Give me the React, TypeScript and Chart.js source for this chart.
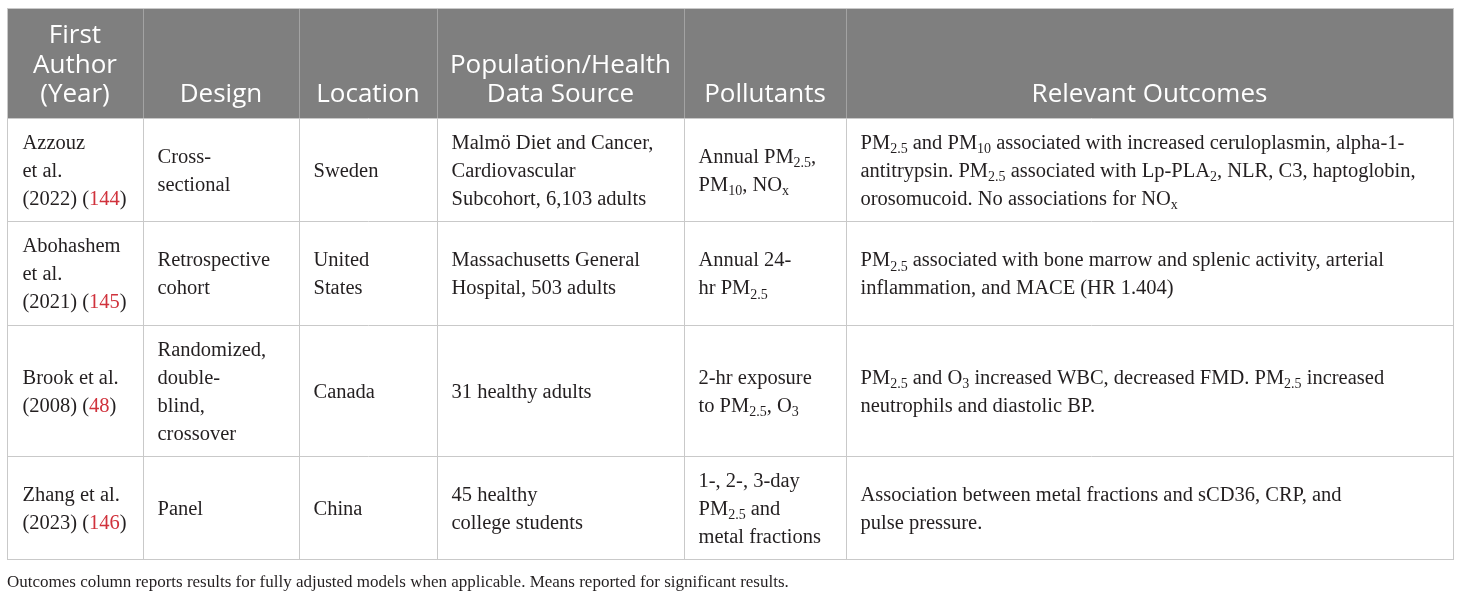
import React, { useEffect, useRef } from "react";
import { Chart, registerables } from "chart.js";

Chart.register(...registerables);

// ---------- data ----------
const headers: string[][] = [
  ["First", "Author", "(Year)"],
  ["Design"],
  ["Location"],
  ["Population/Health", "Data Source"],
  ["Pollutants"],
  ["Relevant Outcomes"],
];

const authors: string[][] = [
  ["Azzouz", "et al.", "(2022) ([144])"],
  ["Abohashem", "et al.", "(2021) ([145])"],
  ["Brook et al.", "(2008) ([48])"],
  ["Zhang et al.", "(2023) ([146])"],
];

const designs: string[][] = [
  ["Cross-", "sectional"],
  ["Retrospective", "cohort"],
  ["Randomized,", "double-", "blind,", "crossover"],
  ["Panel"],
];

const locations: string[][] = [["Sweden"], ["United", "States"], ["Canada"], ["China"]];

const sources: string[][] = [
  ["Malmö Diet and Cancer,", "Cardiovascular", "Subcohort, 6,103 adults"],
  ["Massachusetts General", "Hospital, 503 adults"],
  ["31 healthy adults"],
  ["45 healthy", "college students"],
];

const pollutants: string[][] = [
  ["Annual PM_{2.5},", "PM_{10}, NO_{x}"],
  ["Annual 24-", "hr PM_{2.5}"],
  ["2-hr exposure", "to PM_{2.5}, O_{3}"],
  ["1-, 2-, 3-day", "PM_{2.5} and", "metal fractions"],
];

const outcomes: string[][] = [
  [
    "PM_{2.5} and PM_{10} associated with increased ceruloplasmin, alpha-1-",
    "antitrypsin. PM_{2.5} associated with Lp-PLA_{2}, NLR, C3, haptoglobin,",
    "orosomucoid. No associations for NO_{x}",
  ],
  [
    "PM_{2.5} associated with bone marrow and splenic activity, arterial",
    "inflammation, and MACE (HR 1.404)",
  ],
  [
    "PM_{2.5} and O_{3} increased WBC, decreased FMD. PM_{2.5} increased",
    "neutrophils and diastolic BP.",
  ],
  ["Association between metal fractions and sCD36, CRP, and", "pulse pressure."],
];

const caption =
  "Outcomes column reports results for fully adjusted models when applicable. Means reported for significant results.";

// ---------- layout (scale units) ----------
const COL_EDGES = [7, 143, 299, 437, 684, 846, 1453];
const ROW_EDGES = [8, 118, 221, 325, 456, 559];

const SERIF = '"Liberation Serif", "DejaVu Serif", serif';
const SANS = '"Open Sans", "Noto Sans", sans-serif';
const TEXT = "#231f20";
const RED = "#d0323c";
const GRID = "#c9c9c9";
const HEAD_BG = "#7f7f7f";
const HEAD_SEP = "#a3a3a3";
const BODY_SIZE = 20.5;
const HEAD_SIZE = 26;

type Seg = { t: string; kind: "n" | "sub" | "red" };

function parse(s: string): Seg[] {
  const out: Seg[] = [];
  const re = /_\{([^}]*)\}|\[([^\]]*)\]/g;
  let last = 0;
  let m: RegExpExecArray | null;
  while ((m = re.exec(s))) {
    if (m.index > last) out.push({ t: s.slice(last, m.index), kind: "n" });
    if (m[1] !== undefined) out.push({ t: m[1], kind: "sub" });
    else out.push({ t: m[2], kind: "red" });
    last = re.lastIndex;
  }
  if (last < s.length) out.push({ t: s.slice(last), kind: "n" });
  return out;
}

function drawRich(ctx: CanvasRenderingContext2D, s: string, x: number, y: number, size: number) {
  let cx = x;
  for (const seg of parse(s)) {
    const sub = seg.kind === "sub";
    ctx.font = `${sub ? Math.round(size * 0.68) : size}px ${SERIF}`;
    ctx.fillStyle = seg.kind === "red" ? RED : TEXT;
    ctx.fillText(seg.t, cx, y + (sub ? size * 0.24 : 0));
    cx += ctx.measureText(seg.t).width;
  }
}

const tablePlugin = {
  id: "tablePlugin",
  afterDraw(chart: any) {
    const ctx: CanvasRenderingContext2D = chart.ctx;
    const xs = chart.scales.x;
    const ys = chart.scales.y;
    const X = (v: number) => xs.getPixelForValue(v);
    const Y = (v: number) => ys.getPixelForValue(v);
    const cols = [authors, designs, locations, sources, pollutants, outcomes];
    ctx.save();
    ctx.textBaseline = "alphabetic";

    // header background
    const left = X(COL_EDGES[0]);
    const right = X(COL_EDGES[COL_EDGES.length - 1]);
    const top = Y(ROW_EDGES[0]);
    const bottom = Y(ROW_EDGES[ROW_EDGES.length - 1]);
    const headBottom = Y(ROW_EDGES[1]);
    ctx.fillStyle = HEAD_BG;
    ctx.fillRect(left, top, right - left, headBottom - top);

    // grid lines
    ctx.lineWidth = 1;
    for (let i = 1; i < COL_EDGES.length - 1; i++) {
      const x = Math.round(X(COL_EDGES[i])) + 0.5;
      ctx.strokeStyle = HEAD_SEP;
      ctx.beginPath();
      ctx.moveTo(x, top);
      ctx.lineTo(x, headBottom);
      ctx.stroke();
      ctx.strokeStyle = GRID;
      ctx.beginPath();
      ctx.moveTo(x, headBottom);
      ctx.lineTo(x, bottom);
      ctx.stroke();
    }
    ctx.strokeStyle = GRID;
    for (let r = 1; r < ROW_EDGES.length; r++) {
      const y = Math.round(Y(ROW_EDGES[r])) + 0.5;
      ctx.beginPath();
      ctx.moveTo(left, y);
      ctx.lineTo(right, y);
      ctx.stroke();
    }
    ctx.strokeRect(Math.round(left) + 0.5, Math.round(top) + 0.5, Math.round(right - left), Math.round(bottom - top));

    // header text
    ctx.font = `${HEAD_SIZE}px ${SANS}`;
    ctx.fillStyle = "#ffffff";
    ctx.textAlign = "center";
    headers.forEach((lines, c) => {
      const cx = (X(COL_EDGES[c]) + X(COL_EDGES[c + 1])) / 2;
      const lastBase = headBottom - 16;
      lines.forEach((ln, i) => {
        ctx.fillText(ln, cx, lastBase - (lines.length - 1 - i) * 29.5);
      });
    });

    // body text
    ctx.textAlign = "left";
    const LH = 28;
    for (let r = 0; r < authors.length; r++) {
      const y0 = Y(ROW_EDGES[r + 1]);
      const y1 = Y(ROW_EDGES[r + 2]);
      const mid = (y0 + y1) / 2;
      cols.forEach((col, c) => {
        const lines = col[r];
        const x = X(COL_EDGES[c]) + (c === 0 ? 15.5 : 14.5);
        lines.forEach((ln, i) => {
          const lc = mid + (i - (lines.length - 1) / 2) * LH;
          drawRich(ctx, ln, x, lc + 7, BODY_SIZE);
        });
      });
    }

    // caption
    ctx.font = `17px ${SERIF}`;
    ctx.fillStyle = TEXT;
    ctx.fillText(caption, X(7), Y(587));
    ctx.restore();
  },
};

export default function App() {
  const ref = useRef<HTMLCanvasElement | null>(null);
  useEffect(() => {
    document.body.style.margin = "0";
    const canvas = ref.current;
    if (!canvas) return;
    const chart = new Chart(canvas, {
      type: "scatter",
      data: { datasets: [{ data: [], pointRadius: 0 }] },
      options: {
        animation: false,
        responsive: false,
        devicePixelRatio: 1,
        layout: { padding: 0 },
        plugins: { legend: { display: false }, tooltip: { enabled: false }, title: { display: false } },
        scales: {
          x: { type: "linear", min: 0, max: 1460, display: false },
          y: { type: "linear", min: 0, max: 597, reverse: true, display: false },
        },
      },
      plugins: [tablePlugin],
    });
    let alive = true;
    Promise.all([
      document.fonts.load(`26px "Open Sans"`),
      document.fonts.load(`20px "Liberation Serif"`),
    ]).then(() => {
      if (alive) chart.draw();
    }).catch(() => {});
    return () => {
      alive = false;
      chart.destroy();
    };
  }, []);
  return (
    <div style={{ width: 1460, height: 597, background: "#ffffff" }}>
      <canvas ref={ref} width={1460} height={597} style={{ display: "block", width: 1460, height: 597 }} />
    </div>
  );
}
